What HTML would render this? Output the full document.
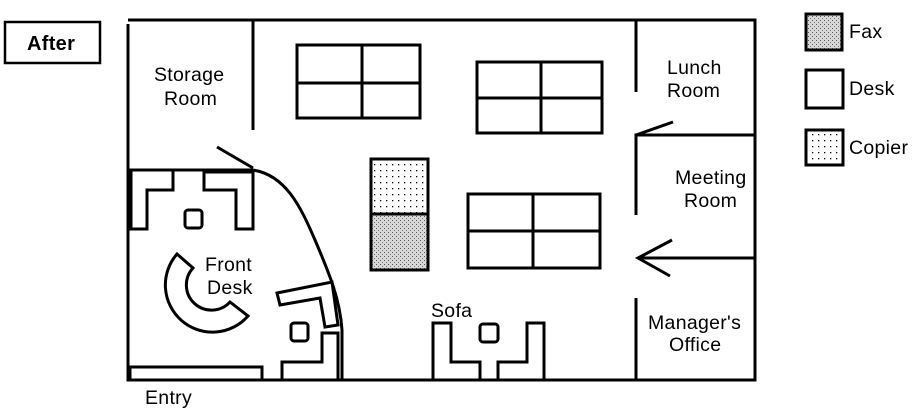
<!DOCTYPE html>
<html><head><meta charset="utf-8"><style>
body{margin:0;background:#fff;}
svg{display:block;}
text{font-family:"Liberation Sans",sans-serif;font-size:19.5px;fill:#000;letter-spacing:0.3px;}
</style></head><body>
<svg width="922" height="418" viewBox="0 0 922 418" xmlns="http://www.w3.org/2000/svg">
<defs>
<pattern id="dots" width="6" height="6" patternUnits="userSpaceOnUse"><rect width="6" height="6" fill="#fff"/><rect x="2" y="2" width="1.3" height="1.3" fill="#000"/></pattern>
<pattern id="fax" width="4" height="4" patternUnits="userSpaceOnUse"><rect width="4" height="4" fill="#d8d8d8"/><rect x="0" y="0" width="1" height="1" fill="#555"/><rect x="2" y="2" width="1" height="1" fill="#777"/></pattern>
</defs>
<g fill="none" stroke="#000" stroke-width="3">
<rect x="5" y="22" width="95" height="41" stroke-width="2.5"/>
<polyline points="128,24 128,380 755,380 755,20 128,20"/>
<line x1="253" y1="20" x2="253" y2="130"/>
<line x1="128" y1="170" x2="253" y2="170"/>
<line x1="217" y1="147" x2="253" y2="168"/>
<path d="M253,170 C285,175 300,205 315,240 C330,275 340,300 342,330 L342,380"/>
<line x1="636" y1="20" x2="636" y2="92"/>
<polyline points="755,135 636,135 636,215"/>
<line x1="636" y1="135" x2="673" y2="122"/>
<line x1="638" y1="258" x2="755" y2="258"/>
<polyline points="672,240 638,258 670,276"/>
<line x1="636" y1="298" x2="636" y2="380"/>
<rect x="297" y="45" width="123" height="73" fill="#fff"/>
<line x1="362" y1="45" x2="362" y2="118"/><line x1="297" y1="83" x2="420" y2="83"/>
<rect x="477" y="62" width="125" height="71" fill="#fff"/>
<line x1="541" y1="62" x2="541" y2="133"/><line x1="477" y1="98" x2="602" y2="98"/>
<rect x="468" y="194" width="132" height="74" fill="#fff"/>
<line x1="533" y1="194" x2="533" y2="268"/><line x1="468" y1="231" x2="600" y2="231"/>
<rect x="371" y="159" width="57" height="55" fill="url(#dots)"/>
<rect x="371" y="214" width="57" height="56" fill="url(#fax)"/>
<polygon points="131,170 173,170 173,190 147,190 147,229 131,229"/>
<polygon points="204,172 253,172 253,229 236,229 236,190 204,190"/>
<rect x="185" y="210" width="17" height="18" rx="3"/>
<path d="M177,254 L193,268 A24,24 0 0 0 230,302 L248,316 A46,46 0 0 1 177,254 Z"/>
<polygon points="277,293 332,282 338,325 325,327 320,298 280,305"/>
<polygon points="282,380 282,362 322,362 322,333 338,333 338,380"/>
<rect x="291" y="323" width="17" height="18" rx="3"/>
<rect x="130" y="367" width="132" height="13"/>
<polygon points="433,380 433,323 451,323 451,362 480,362 480,380"/>
<polygon points="498,380 498,362 527,362 527,323 544,323 544,380"/>
<rect x="480" y="324" width="18" height="18" rx="3"/>
<rect x="806" y="14" width="36" height="36" fill="url(#fax)"/>
<rect x="806" y="70" width="37" height="38"/>
<rect x="806" y="130" width="37" height="35" fill="url(#dots)"/>
</g>
<text x="27" y="50" style="font-weight:bold;font-size:20px">After</text>
<text x="154" y="81">Storage</text>
<text x="164" y="105">Room</text>
<text x="667" y="74">Lunch</text>
<text x="667" y="97">Room</text>
<text x="675" y="184">Meeting</text>
<text x="684" y="207">Room</text>
<text x="648" y="329">Manager's</text>
<text x="669" y="351">Office</text>
<text x="205" y="271">Front</text>
<text x="207" y="294">Desk</text>
<text x="431" y="317">Sofa</text>
<text x="145" y="404">Entry</text>
<text x="849" y="38">Fax</text>
<text x="849" y="95">Desk</text>
<text x="849" y="154">Copier</text>
</svg>
</body></html>
